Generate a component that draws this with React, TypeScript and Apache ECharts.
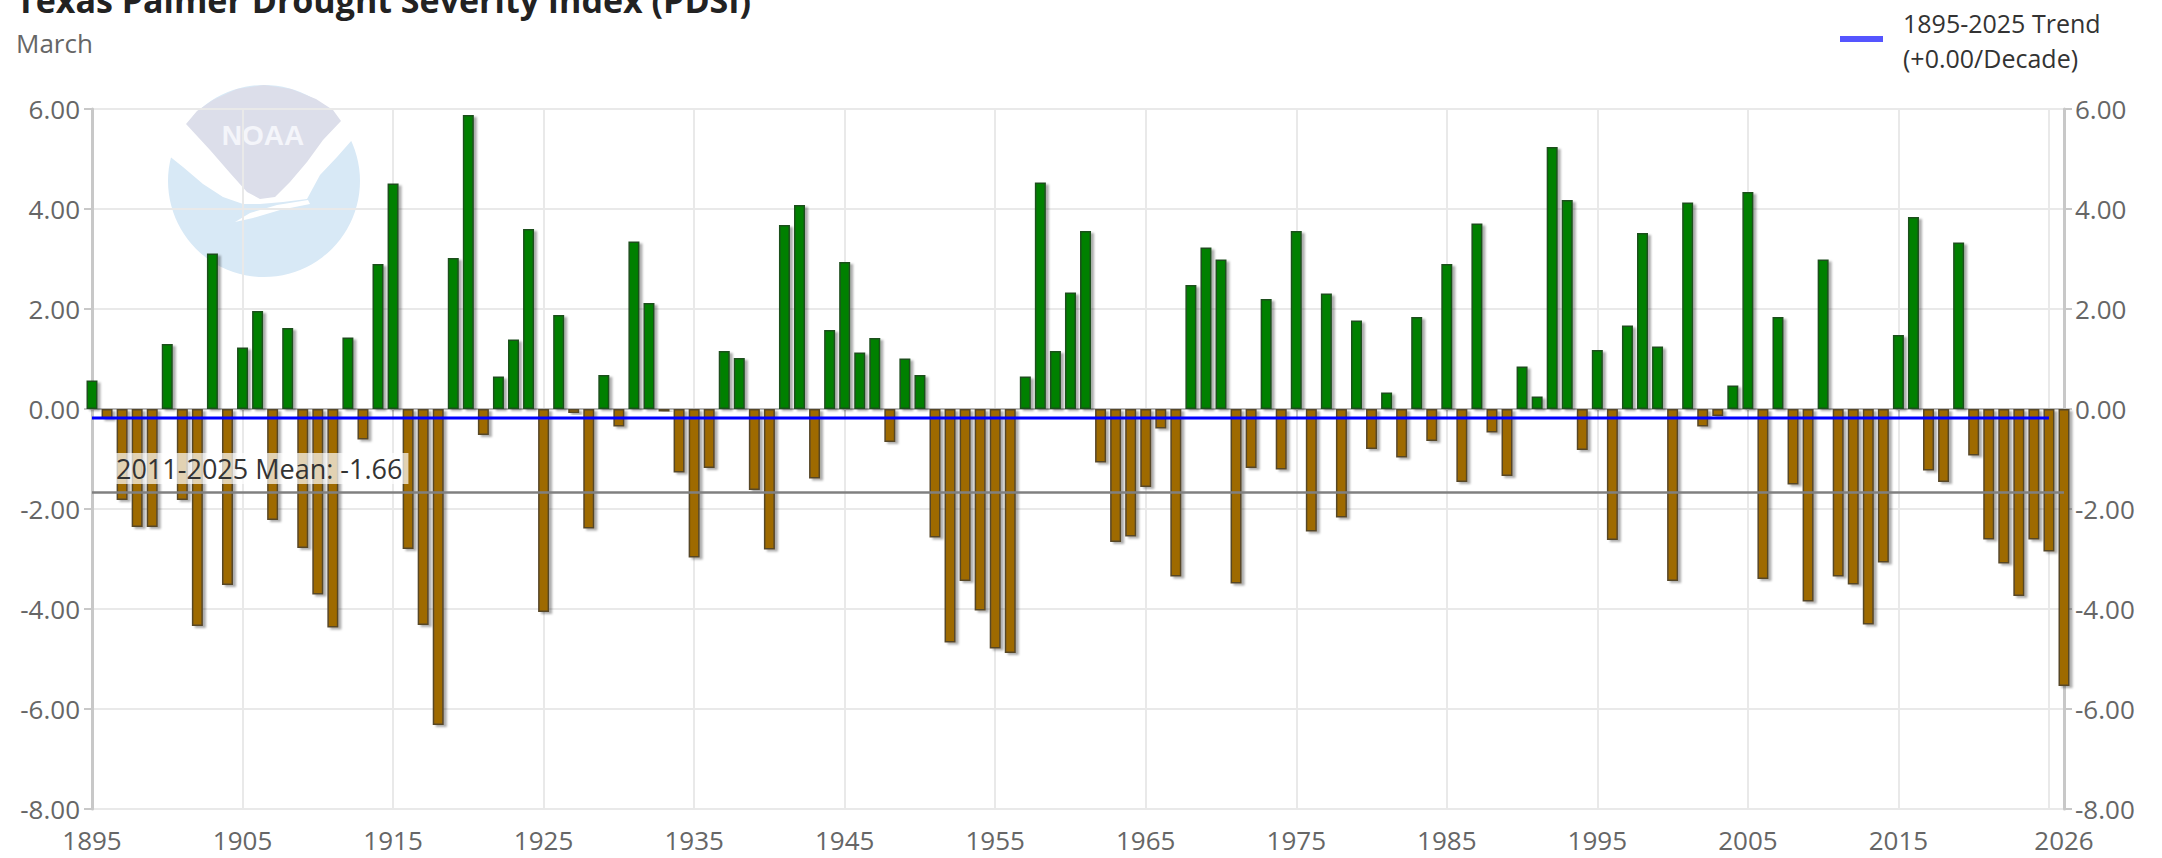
import React, { useEffect, useRef } from 'react';
import * as echarts from 'echarts';

// ---------- data ----------
const firstYear = 1895;
const lastYear = 2026;
const years: string[] = [];
for (let y = firstYear; y <= lastYear; y++) years.push(String(y));

// March PDSI, Texas, 1895 .. 2026
const pdsi: number[] = [
  // 1895-1904
  0.57, -0.2, -1.82, -2.36, -2.36, 1.3, -1.82, -4.34, 3.11, -3.52,
  // 1905-1914
  1.23, 1.96, -2.22, 1.62, -2.78, -3.71, -4.37, 1.43, -0.61, 2.9,
  // 1915-1924
  4.51, -2.8, -4.32, -6.32, 3.02, 5.88, -0.52, 0.65, 1.39, 3.6,
  // 1925-1934
  -4.06, 1.88, -0.08, -2.39, 0.68, -0.35, 3.35, 2.12, -0.05, -1.27,
  // 1935-1944
  -2.97, -1.18, 1.16, 1.02, -1.62, -2.81, 3.68, 4.08, -1.39, 1.58,
  // 1945-1954
  2.94, 1.13, 1.42, -0.66, 1.01, 0.68, -2.57, -4.67, -3.44, -4.03,
  // 1955-1964
  -4.79, -4.88, 0.65, 4.53, 1.16, 2.33, 3.56, -1.07, -2.66, -2.55,
  // 1965-1974
  -1.56, -0.39, -3.35, 2.48, 3.23, 2.99, -3.49, -1.18, 2.2, -1.21,
  // 1975-1984
  3.56, -2.45, 2.31, -2.17, 1.77, -0.8, 0.33, -0.97, 1.84, -0.64,
  // 1985-1994
  2.9, -1.46, 3.71, -0.47, -1.34, 0.85, 0.25, 5.24, 4.18, -0.82,
  // 1995-2004
  1.18, -2.62, 1.67, 3.52, 1.25, -3.44, 4.13, -0.35, -0.14, 0.47,
  // 2005-2014
  4.34, -3.4, 1.84, -1.51, -3.85, 2.99, -3.35, -3.51, -4.31, -3.07,
  // 2015-2024
  1.48, 3.84, -1.23, -1.46, 3.33, -0.93, -2.61, -3.09, -3.74, -2.61,
  // 2025-2026
  -2.85, -5.54,
];

const trendStartYear = '1895';
const trendEndYear = '2025';
const trendStart = -0.18;
const trendEnd = -0.18;

const meanPeriod = '2011-2025';
const meanValue = -1.66;

const titleText = 'Texas Palmer Drought Severity Index (PDSI)';
const subtitleText = 'March';
const legendLine1 = '1895-2025 Trend';
const legendLine2 = '(+0.00/Decade)';

const yMin = -8;
const yMax = 6;
const yStep = 2;

// ---------- styles ----------
const FONT = '"Open Sans", "Noto Sans", sans-serif';
const greenStyle = {
  color: '#008000',
  borderColor: '#1e4f1e',
  borderWidth: 1.5,
  shadowColor: 'rgba(0,0,0,0.32)',
  shadowBlur: 2,
  shadowOffsetX: 3,
  shadowOffsetY: 2,
};
const brownStyle = {
  color: '#9e6a00',
  borderColor: '#574628',
  borderWidth: 1.5,
  shadowColor: 'rgba(0,0,0,0.32)',
  shadowBlur: 2,
  shadowOffsetX: 3,
  shadowOffsetY: 2,
};

const lastIdx = years.length - 1;
const labelInterval = (i: number) => (i % 10 === 0 && i <= lastIdx - 10) || i === lastIdx;
const tickInterval = (i: number) => i % 10 === 0 || i === lastIdx;
const gridInterval = (i: number) => i % 10 === 0;

function buildLogo(): any[] {
  const z = -20;
  const gray = '#dcdeea';
  const blue = '#d8e9f6';
  return [
    { type: 'circle', z, silent: true, shape: { cx: 264, cy: 181, r: 96 }, style: { fill: blue } },
    {
      type: 'polygon', z: z + 1, silent: true,
      shape: {
        points: [
          [160, 123], [168, 155], [183, 167], [203, 184], [223, 197], [243, 204], [260, 204],
          [283, 202], [307, 199], [320, 175], [337, 157], [352, 140], [367, 120], [270, 100],
        ],
      },
      style: { fill: '#ffffff' },
    },
    {
      type: 'polygon', z: z + 2, silent: true,
      shape: {
        points: [
          [186, 124], [197, 111], [213, 100], [237, 89], [264, 85], [291, 89], [316, 99],
          [333, 110], [341, 121], [323, 140], [307, 162], [290, 182], [275, 197], [260, 199],
          [247, 192], [230, 173], [210, 150],
        ],
      },
      style: { fill: gray },
    },
    {
      type: 'polygon', z: z + 3, silent: true,
      shape: {
        points: [
          [235, 222], [250, 213], [277, 205], [308, 200], [310, 204], [280, 210], [253, 218],
        ],
      },
      style: { fill: '#ffffff' },
    },
    {
      type: 'text', z: z + 3, silent: true, x: 263, y: 135,
      style: {
        text: 'NOAA', fill: '#f4f5fa', font: 'bold 28px "Liberation Sans", sans-serif',
        align: 'center', verticalAlign: 'middle',
      },
    },
  ];
}

export default function App() {
  const ref = useRef<HTMLDivElement>(null);

  useEffect(() => {
    if (!ref.current) return;
    const chart = echarts.init(ref.current, undefined, { renderer: 'svg' });

    const yAxisBase = {
      type: 'value',
      min: yMin,
      max: yMax,
      interval: yStep,
      axisLine: { show: true, lineStyle: { color: '#c8c8c8', width: 3 } },
      axisTick: { show: true, length: 8, lineStyle: { color: '#c8c8c8', width: 2 } },
      axisLabel: {
        formatter: (v: number) => v.toFixed(2),
        color: '#666666',
        fontSize: 26,
        fontFamily: FONT,
      },
    };

    const option: any = {
      animation: false,
      backgroundColor: '#ffffff',
      textStyle: { fontFamily: FONT },
      grid: { left: 92, right: 98, top: 109, bottom: 49, containLabel: false },
      xAxis: {
        type: 'category',
        data: years,
        boundaryGap: false,
        axisLine: { show: true, lineStyle: { color: '#b8b8b8', width: 2 } },
        axisTick: { show: true, interval: tickInterval, length: 10, lineStyle: { color: '#c4c4c4', width: 2 } },
        axisLabel: {
          interval: labelInterval,
          color: '#666666',
          fontSize: 26,
          fontFamily: FONT,
          margin: 18,
          formatter: (v: string) => v,
        },
        splitLine: { show: true, interval: gridInterval, lineStyle: { color: '#e9e9e9', width: 2 } },
      },
      yAxis: [
        {
          ...yAxisBase,
          position: 'left',
          axisLabel: { ...yAxisBase.axisLabel, margin: 12 },
          splitLine: { show: true, lineStyle: { color: '#e9e9e9', width: 2 } },
        },
        {
          ...yAxisBase,
          position: 'right',
          axisLabel: { ...yAxisBase.axisLabel, margin: 11 },
          splitLine: { show: false },
        },
      ],
      series: [
        {
          name: 'PDSI',
          type: 'bar',
          barWidth: 11,
          clip: false,
          z: 2,
          data: pdsi.map((v) => ({ value: v, itemStyle: v >= 0 ? greenStyle : brownStyle })),
        },
        {
          name: 'Trend',
          type: 'line',
          z: 4,
          symbol: 'none',
          silent: true,
          lineStyle: { color: '#0000ff', width: 3 },
          data: [
            [trendStartYear, trendStart],
            [trendEndYear, trendEnd],
          ],
          markLine: {
            silent: true,
            symbol: 'none',
            lineStyle: { color: '#808080', width: 2.5, type: 'solid' },
            label: {
              show: true,
              position: 'insideStartTop',
              distance: [18, 8],
              formatter: `${meanPeriod} Mean: ${meanValue.toFixed(2)}`,
              color: '#333333',
              fontSize: 27,
              fontFamily: FONT,
              backgroundColor: 'rgba(255,255,255,0.7)',
              padding: [2, 6, 2, 6],
            },
            data: [{ yAxis: meanValue }],
          },
        },
      ],
      graphic: [
        ...buildLogo(),
        {
          type: 'text', x: 16, y: 0, silent: true,
          style: { text: titleText, font: `bold 34px ${FONT}`, fill: '#222222', verticalAlign: 'middle' },
        },
        {
          type: 'text', x: 16, y: 43, silent: true,
          style: { text: subtitleText, font: `26px ${FONT}`, fill: '#666666', verticalAlign: 'middle' },
        },
        {
          type: 'rect', silent: true, shape: { x: 1840, y: 36, width: 43, height: 6 },
          style: { fill: '#5555ff' },
        },
        {
          type: 'text', x: 1903, y: 23, silent: true,
          style: { text: legendLine1, font: `25px ${FONT}`, fill: '#333333', verticalAlign: 'middle' },
        },
        {
          type: 'text', x: 1903, y: 58, silent: true,
          style: { text: legendLine2, font: `25px ${FONT}`, fill: '#333333', verticalAlign: 'middle' },
        },
      ],
    };

    chart.setOption(option);
    return () => chart.dispose();
  }, []);

  return (
    <div
      ref={ref}
      style={{ position: 'absolute', left: 0, top: 0, width: 2162, height: 858 }}
    />
  );
}
